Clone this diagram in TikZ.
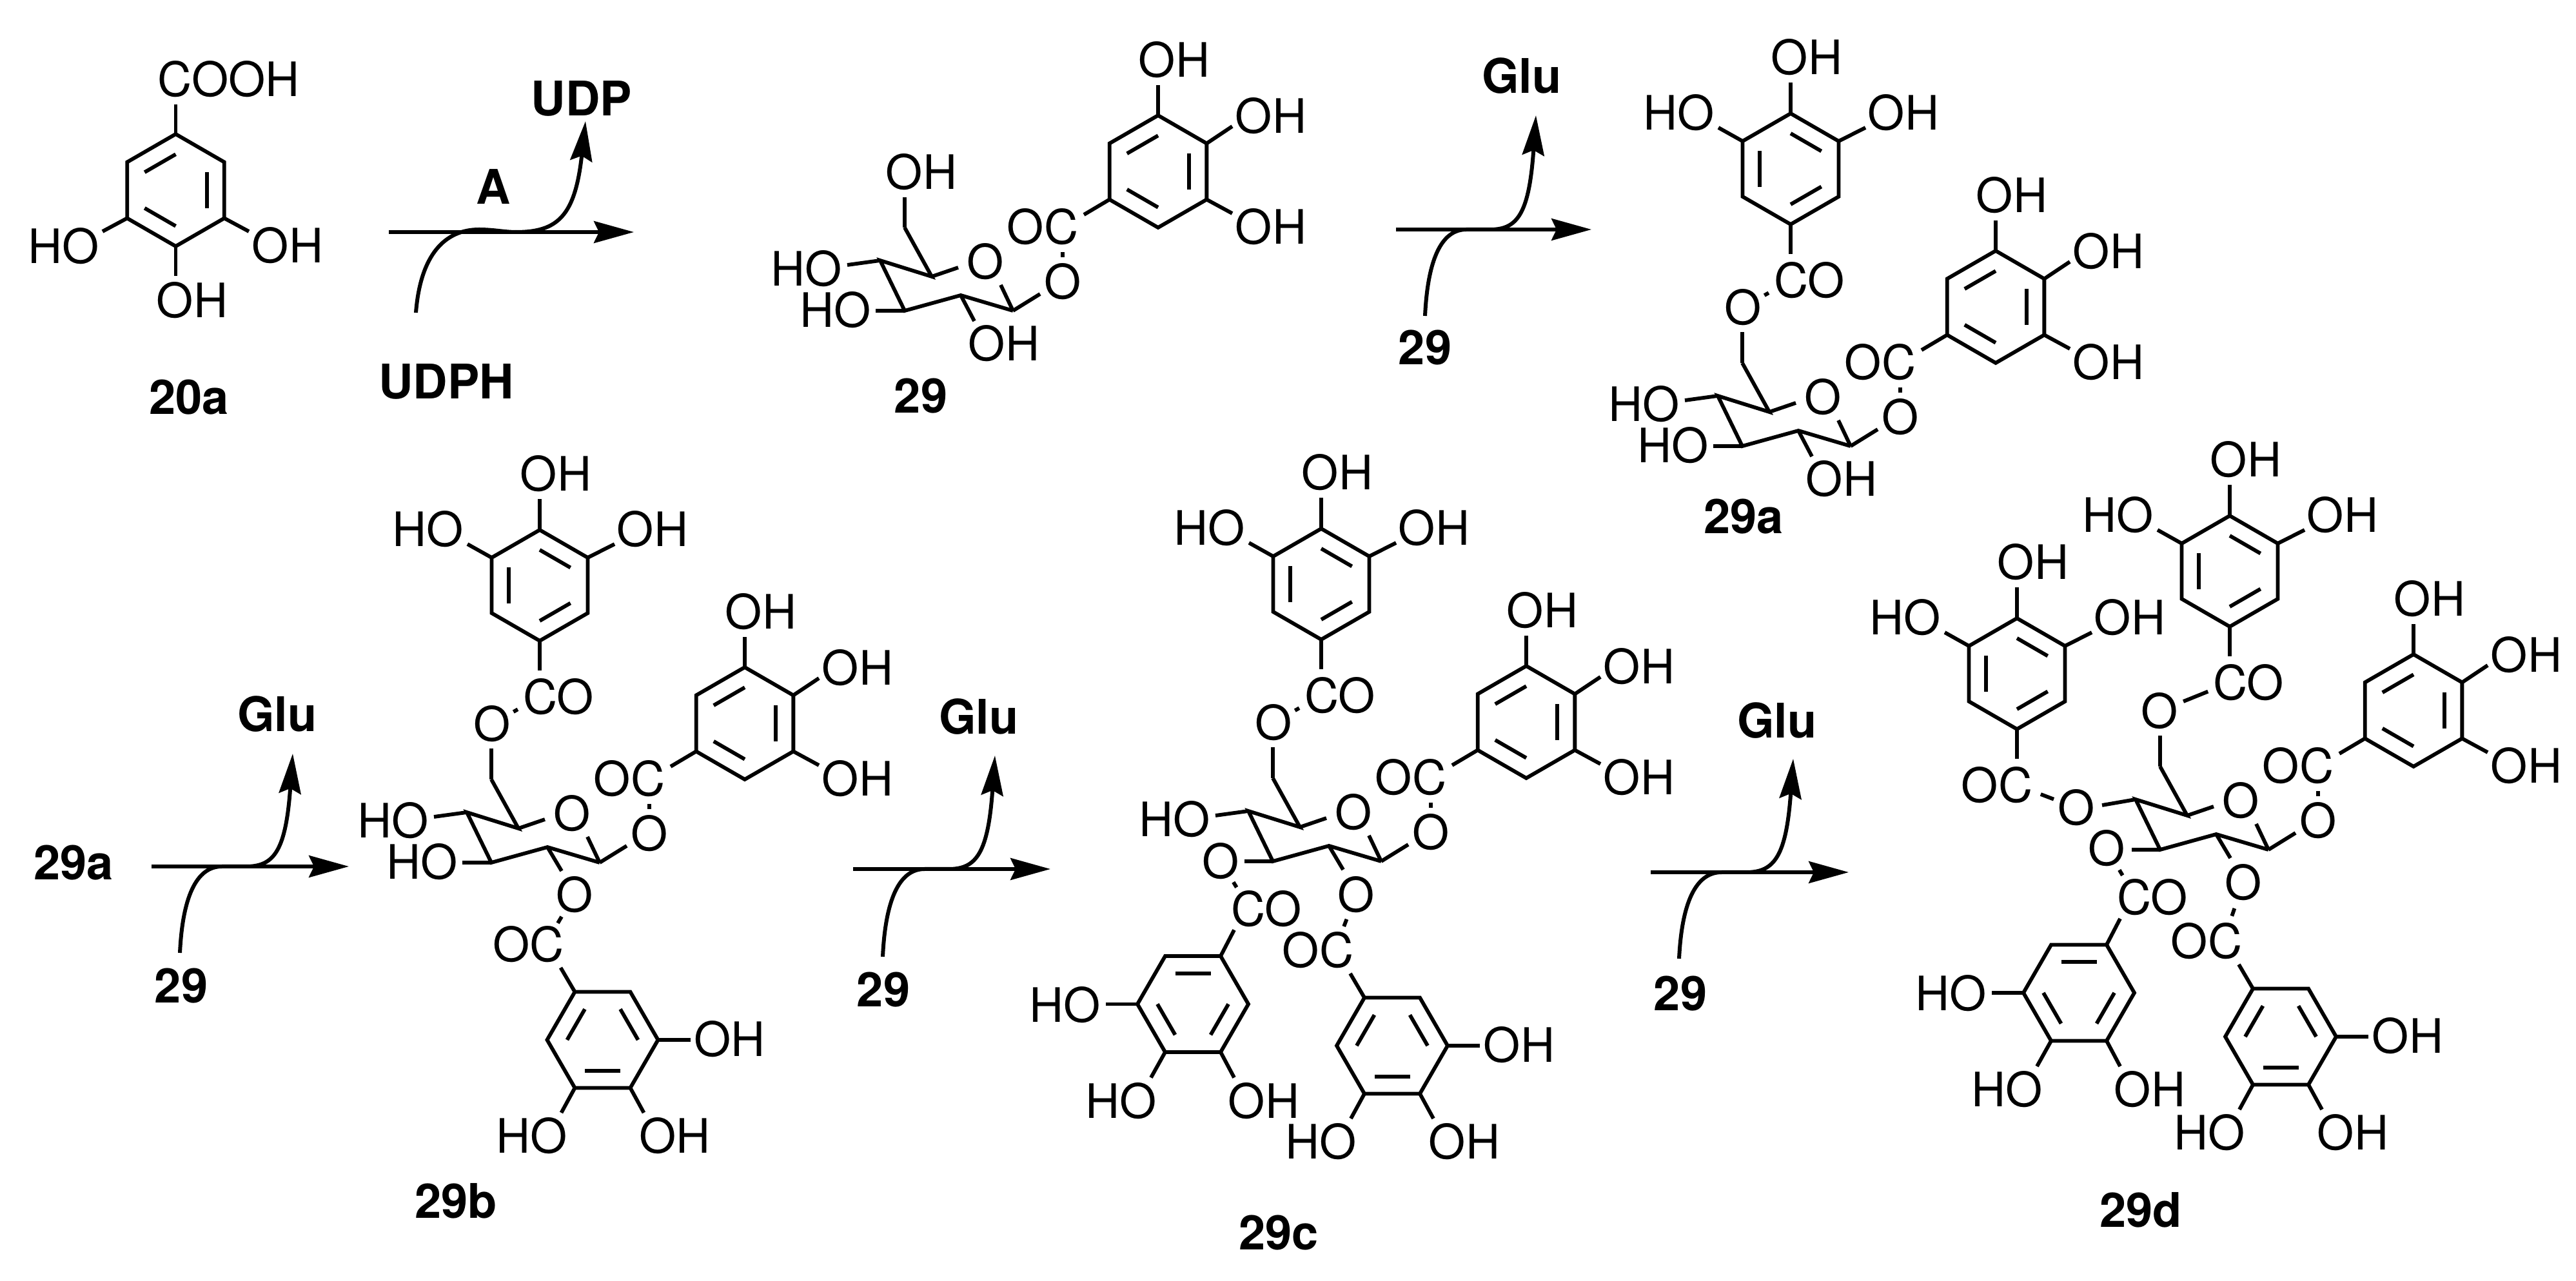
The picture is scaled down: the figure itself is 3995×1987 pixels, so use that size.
\documentclass[tikz,border=0pt]{standalone}
\usepackage{fontspec}
\setmainfont{TeX Gyre Heros}
\usetikzlibrary{arrows.meta,calc}
\tikzset{
  bond/.style={line width=1.45pt,line cap=butt,line join=miter,black},
  atom/.style={inner sep=0pt,outer sep=0pt,font=\fontsize{18.4}{21}\selectfont},
  cmpd/.style={inner sep=0pt,outer sep=0pt,font=\fontsize{18.5}{21}\selectfont\bfseries},
  rxn/.style={line width=1.3pt,black},
  rxncurve/.style={line width=1.5pt,black},
  rxnhead/.style={-{Stealth[length=15.5pt,width=8.5pt,inset=2pt]}}
}
% ring: name, cx, cy, R, rotation
\newcommand\hexring[5]{%
  \foreach \k in {1,...,6}{\coordinate (#1v\k) at ({#2+#4*cos(#5-90+60*(\k-1))},{#3+#4*sin(#5-90+60*(\k-1))});}
  \coordinate (#1c) at (#2,#3);
  \draw[bond] (#1v1)--(#1v2)--(#1v3)--(#1v4)--(#1v5)--(#1v6)--cycle;
}
\newcommand\innerbond[3]{\draw[bond] ($(#1c)!.64!(#1v#2)$) -- ($(#1c)!.64!(#1v#3)$);}
% from-coordinate, bond end x,y, label name, label x,y, text
\newcommand\subst[7]{%
  \node[atom] (#4) at (#5,#6) {#7};
  \coordinate (#4e) at (#2,#3);
  \draw[bond] (#1) -- (#4e);
}
\newcommand\dotbond[4]{\draw[bond] ($(#1)!#3!(#2)$) -- ($(#1)!#4!(#2)$);}
% gallate above: name, cx, cy, text, label x
\newcommand\galTop[5]{%
  \begin{scope}[shift={(#2,#3)}]
    \hexring{#1}{0}{0}{86}{0}
    \innerbond{#1}{1}{2}\innerbond{#1}{5}{6}\innerbond{#1}{3}{4}
    \subst{#1v1}{0}{-134}{#1a}{25}{-173}{OH}
    \subst{#1v6}{-112}{-64}{#1b}{-173}{-87}{HO}
    \subst{#1v2}{116}{-64}{#1d}{175}{-87}{OH}
    \subst{#1v4}{0}{132}{#1l}{#5}{173}{#4}
    \coordinate (#1Cc) at (0,173);
  \end{scope}
}
% gallate on C2 (flat top)
\newcommand\galA[3]{%
  \begin{scope}[shift={(#2,#3)}]
    \hexring{#1}{0}{0}{86}{30}
    \innerbond{#1}{5}{6}\innerbond{#1}{1}{2}\innerbond{#1}{3}{4}
    \subst{#1v6}{-65}{-112}{#1l}{-115}{-148}{OC}
    \coordinate (#1Cc) at (-89,-148);
    \subst{#1v2}{136}{0}{#1a}{197}{-1}{OH}
    \subst{#1v4}{-64}{113}{#1b}{-110}{149}{HO}
    \subst{#1v3}{64}{113}{#1d}{112}{149}{OH}
  \end{scope}
}
% gallate on C3 (flat top)
\newcommand\galB[3]{%
  \begin{scope}[shift={(#2,#3)}]
    \hexring{#1}{0}{0}{86}{30}
    \innerbond{#1}{6}{1}\innerbond{#1}{4}{5}\innerbond{#1}{2}{3}
    \subst{#1v1}{64}{-115}{#1l}{114}{-148}{CO}
    \coordinate (#1Cc) at (88,-148);
    \subst{#1v5}{-135}{0}{#1a}{-198}{1}{HO}
    \subst{#1v4}{-65}{114}{#1b}{-111}{150}{HO}
    \subst{#1v3}{64}{114}{#1d}{110}{150}{OH}
  \end{scope}
}
% sugar with the gallate on C1, in the coordinates of compound 29
\newcommand\core[1]{%
  \coordinate (#1C1) at (1571,482);
  \coordinate (#1C2) at (1490,458);
  \coordinate (#1C3) at (1403,482);
  \coordinate (#1C4) at (1365,404);
  \coordinate (#1C5) at (1445,429);
  \coordinate (#1C6) at (1403,353);
  \draw[bond] (#1C1)--(#1C2)--(#1C3)--(#1C4)--(#1C5)--(#1C6);
  \subst{#1C5}{1486}{415}{#1Or}{1528}{406}{O}
  \coordinate (#1Ore) at (1552,442);
  \draw[bond] (#1C1) -- (#1Ore);
  \subst{#1C1}{1613}{456}{#1O1}{1648}{437}{O}
  \begin{scope}[shift={(1796,266)}]
    \hexring{#1g}{0}{0}{87}{0}
    \innerbond{#1g}{1}{6}\innerbond{#1g}{2}{3}\innerbond{#1g}{4}{5}
    \subst{#1gv1}{0}{-134}{#1ga}{25}{-173}{OH}
    \subst{#1gv2}{115}{-70}{#1gb}{175}{-86}{OH}
    \subst{#1gv3}{115}{65}{#1gd}{175}{86}{OH}
    \subst{#1gv5}{-115}{67}{#1OC}{-179}{86}{OC}
    \coordinate (#1Cc) at (-148,86);
  \end{scope}
  \dotbond{#1O1}{#1Cc}{.45}{.54}
}
% arrow: name, start x, y, end x, in-curve x, y, out-curve tip x, y
\newcommand\rxnarrow[8]{%
  \pgfmathsetmacro\fx{(#7-#5)/263}
  \pgfmathsetmacro\hin{#6-#3}
  \pgfmathsetmacro\hout{#3-#8}
  \pgfmathsetmacro\bmp{\fx>0.9 ? 4 : 0}
  \coordinate (#1a) at (#2,#3);
  \coordinate (#1b) at (#4,#3);
  \coordinate (#1s) at (#5,#6);
  \coordinate (#1m) at ({#5+98*\fx},{#3-\bmp});
  \coordinate (#1n) at ({#7-108*\fx},#3);
  \coordinate (#1t) at (#7,#8);
  \draw[rxn,rxnhead] (#1a) -- (#1b);
  \draw[rxncurve] (#1s) .. controls ({#5+7*\fx},{#3+.28*\hin}) and ({#5+45*\fx},{#3-\bmp}) .. (#1m)
     .. controls ({#5+120*\fx},{#3-\bmp}) and ({#7-125*\fx},#3) .. (#1n);
  \draw[rxncurve,rxnhead] (#1n) .. controls ({#7-43*\fx},#3) and ({#7-16*\fx},{#3-.145*\hout}) .. (#1t);
}
\begin{document}
\begin{tikzpicture}[x=0.25pt,y=-0.25pt]
\useasboundingbox (0,0) rectangle (3995,1987);
% 20a
\hexring{r}{272.5}{295}{87}{0}
\innerbond{r}{1}{6}\innerbond{r}{2}{3}\innerbond{r}{4}{5}
\subst{rv1}{272.5}{162}{raa}{355}{123}{COOH}
\subst{rv5}{159}{359}{rab}{99}{382}{HO}
\subst{rv3}{386}{359}{rac}{446}{381}{OH}
\subst{rv4}{272.5}{428}{rad}{298}{466}{OH}
\node[cmpd] (l20a) at (293,616) {20a};
% arrows
\rxnarrow{A}{603}{360}{983}{645}{485}{908}{188}
\node[cmpd] (lUDP) at (902,153) {UDP};
\node[cmpd] (lA) at (765,290) {A};
\node[cmpd] (lUDPH) at (692,592) {UDPH};
\rxnarrow{B}{2165}{356}{2468}{2210}{490}{2382}{179}
\node[cmpd] (lGa) at (2360,118) {Glu};
\node[cmpd] (l29a) at (2210,539) {29};
\rxnarrow{D}{235}{1344}{541}{279}{1478}{454}{1169}
\node[cmpd] (ls29a) at (114,1338) {29a};
\node[cmpd] (lGb) at (430,1108) {Glu};
\node[cmpd] (l29b) at (281,1529) {29};
\rxnarrow{E}{1323}{1348}{1629}{1369}{1484}{1543}{1172}
\node[cmpd] (lGc) at (1518,1112) {Glu};
\node[cmpd] (l29c) at (1370,1535) {29};
\rxnarrow{F}{2560}{1353}{2867}{2604}{1487}{2781}{1177}
\node[cmpd] (lGd) at (2756,1118) {Glu};
\node[cmpd] (l29d) at (2606,1541) {29};
% 29
\begin{scope}
  \core{p}
  \subst{pC6}{1403}{306}{pO6}{1429}{267}{OH}
  \subst{pC4}{1314}{411}{pO4}{1251}{417}{HO}
  \subst{pC3}{1358}{482}{pO3}{1296}{481}{HO}
  \subst{pC2}{1511}{498}{pO2}{1557}{533}{OH}
\end{scope}
\node[cmpd] (n29) at (1428,614) {29};
% 29a
\begin{scope}[shift={(1299,210)}]
  \core{q}
  \subst{qC6}{1403}{305}{qO6}{1404}{267}{O}
  \subst{qC4}{1314}{411}{qO4}{1251}{417}{HO}
  \subst{qC3}{1358}{482}{qO3}{1296}{481}{HO}
  \subst{qC2}{1511}{498}{qO2}{1557}{533}{OH}
\end{scope}
\galTop{qt}{2777}{262}{CO}{29}
\dotbond{qO6}{qtCc}{.45}{.54}
\node[cmpd] (n29a) at (2704,801) {29a};
% 29b
\begin{scope}[shift={(-641,856)}]
  \core{s}
  \subst{sC6}{1403}{305}{sO6}{1404}{267}{O}
  \subst{sC4}{1314}{411}{sO4}{1251}{417}{HO}
  \subst{sC3}{1358}{482}{sO3}{1296}{481}{HO}
  \subst{sC2}{1512}{495}{sO2}{1532}{532}{O}
\end{scope}
\galTop{st}{837}{908}{CO}{29}
\dotbond{sO6}{stCc}{.45}{.54}
\galA{su}{934.5}{1613}
\dotbond{sO2}{suCc}{.44}{.57}
\node[cmpd] (n29b) at (707,1863) {29b};
% 29c
\begin{scope}[shift={(571,854)}]
  \core{t}
  \subst{tC6}{1403}{305}{tO6}{1404}{267}{O}
  \subst{tC4}{1314}{411}{tO4}{1251}{417}{HO}
  \subst{tC3}{1359}{482}{tO3}{1322}{482}{O}
  \subst{tC2}{1512}{495}{tO2}{1532}{534}{O}
\end{scope}
\galTop{tt}{2049}{906}{CO}{29}
\dotbond{tO6}{ttCc}{.45}{.54}
\galA{tu}{2159}{1622}
\dotbond{tO2}{tuCc}{.44}{.57}
\galB{tv}{1850}{1557.5}
\dotbond{tO3}{tvCc}{.44}{.55}
\node[cmpd] (n29c) at (1983,1912) {29c};
% 29d
\begin{scope}[shift={(1947,836)}]
  \core{w}
  \subst{wC6}{1403}{305}{wO6}{1402}{267}{O}
  \subst{wC4}{1313}{413}{wO4}{1273}{417}{O}
  \subst{wC3}{1359}{482}{wO3}{1320}{480}{O}
  \subst{wC2}{1512}{495}{wO2}{1532}{533}{O}
\end{scope}
\galTop{wt}{3458}{886}{CO}{29}
\dotbond{wO6}{wtCc}{.34}{.69}
\galTop{wx}{3128}{1045}{OC}{-31}
\dotbond{wO4}{wxCc}{.38}{.6}
\galA{wu}{3537}{1608}
\dotbond{wO2}{wuCc}{.44}{.57}
\galB{wv}{3224}{1540}
\dotbond{wO3}{wvCc}{.44}{.55}
\node[cmpd] (n29d) at (3320,1877) {29d};
\end{tikzpicture}
\end{document}
